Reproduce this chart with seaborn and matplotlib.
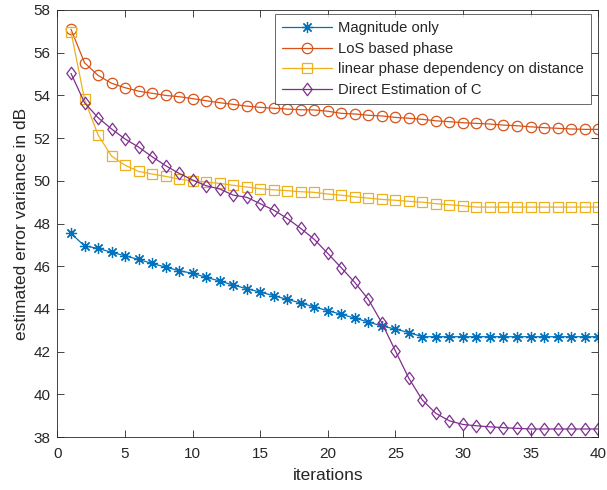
import numpy as np
import pandas as pd
import matplotlib
matplotlib.use("Agg")
import matplotlib.pyplot as plt
import seaborn as sns
from matplotlib.path import Path

# datos (iteraciones 1..40)
iteraciones = list(range(1, 41))

magnitud = [47.54, 46.95, 46.84, 46.65, 46.49, 46.32, 46.13, 45.96, 45.79, 45.67,
            45.48, 45.31, 45.12, 44.95, 44.79, 44.62, 44.45, 44.28, 44.09, 43.92,
            43.75, 43.57, 43.39, 43.20, 43.06, 42.89, 42.70, 42.70, 42.70, 42.70,
            42.70, 42.70, 42.70, 42.70, 42.70, 42.70, 42.70, 42.70, 42.70, 42.70]

los_fase = [57.10, 55.53, 54.94, 54.57, 54.36, 54.20, 54.10, 54.00, 53.94, 53.85,
            53.75, 53.66, 53.58, 53.50, 53.44, 53.40, 53.36, 53.33, 53.32, 53.26,
            53.16, 53.13, 53.07, 53.04, 52.97, 52.93, 52.88, 52.81, 52.77, 52.72,
            52.69, 52.66, 52.61, 52.58, 52.53, 52.49, 52.46, 52.43, 52.41, 52.41]

fase_lineal = [56.98, 53.82, 52.15, 51.16, 50.73, 50.44, 50.32, 50.21, 50.08, 50.00,
               49.94, 49.88, 49.79, 49.71, 49.63, 49.58, 49.54, 49.49, 49.46, 49.38,
               49.33, 49.25, 49.19, 49.13, 49.09, 49.04, 49.00, 48.93, 48.88, 48.83,
               48.77, 48.77, 48.77, 48.77, 48.77, 48.77, 48.77, 48.77, 48.77, 48.77]

estimacion_c = [55.03, 53.66, 52.96, 52.43, 51.96, 51.58, 51.13, 50.71, 50.35, 50.04,
                49.77, 49.62, 49.33, 49.23, 48.93, 48.63, 48.24, 47.77, 47.26, 46.60,
                45.93, 45.24, 44.45, 43.35, 42.04, 40.75, 39.73, 39.11, 38.76, 38.59,
                38.53, 38.48, 38.44, 38.41, 38.38, 38.38, 38.38, 38.38, 38.38, 38.38]

etiquetas = ['Magnitude only', 'LoS based phase',
             'linear phase dependency on distance', 'Direct Estimation of C']
colores = ['#0072BD', '#D95319', '#EDB120', '#7E2F8E']

# diamante un poco mas alto que ancho, como en MATLAB
diamante = Path([(0, 1), (0.75, 0), (0, -1), (-0.75, 0), (0, 1)],
                [Path.MOVETO, Path.LINETO, Path.LINETO, Path.LINETO, Path.CLOSEPOLY])
marcadores = [(8, 2, 0), 'o', 's', diamante]
tamanos = [8, 7.5, 6.5, 9]

sns.set_style("ticks")
plt.rcParams['font.family'] = ['Liberation Sans', 'DejaVu Sans']

fig = plt.figure(figsize=(6.07, 4.90), dpi=100)
ax = fig.add_axes([0.0947, 0.108, 0.8906, 0.8716])

series = [magnitud, los_fase, fase_lineal, estimacion_c]
for valores, etiqueta, color, marcador, tam in zip(series, etiquetas, colores, marcadores, tamanos):
    df = pd.DataFrame({'iteraciones': iteraciones, 'valor': valores})
    sns.lineplot(data=df, x='iteraciones', y='valor', ax=ax, color=color,
                 marker=marcador, markersize=tam, markerfacecolor='none',
                 markeredgecolor=color, markeredgewidth=0.9, linewidth=0.9,
                 label=etiqueta)

ax.set_xlim(0, 40)
ax.set_ylim(38, 58)
ax.set_xticks(np.arange(0, 41, 5))
ax.set_yticks(np.arange(38, 59, 2))
ax.set_xlabel('iterations', fontsize=12.5, color='#262626', labelpad=5)
ax.set_ylabel('estimated error variance in dB', fontsize=12.5, color='#262626', labelpad=3)
ax.tick_params(direction='in', top=True, right=True, length=5, width=0.6,
               colors='#262626', labelsize=11)
ax.tick_params(axis='x', pad=7)
ax.tick_params(axis='y', pad=5)
for s in ax.spines.values():
    s.set_visible(True)
    s.set_color('#262626')
    s.set_linewidth(0.6)

leg = ax.legend(loc='upper right', bbox_to_anchor=(0.987, 0.9906), borderaxespad=0,
                fontsize=10.6, frameon=True, fancybox=False, edgecolor='#262626',
                handlelength=3.4, labelspacing=0.44, borderpad=0.5, handletextpad=0.4)
leg.get_frame().set_linewidth(0.6)
for t in leg.get_texts():
    t.set_color('#262626')

fig.savefig('out.png', dpi=100)
